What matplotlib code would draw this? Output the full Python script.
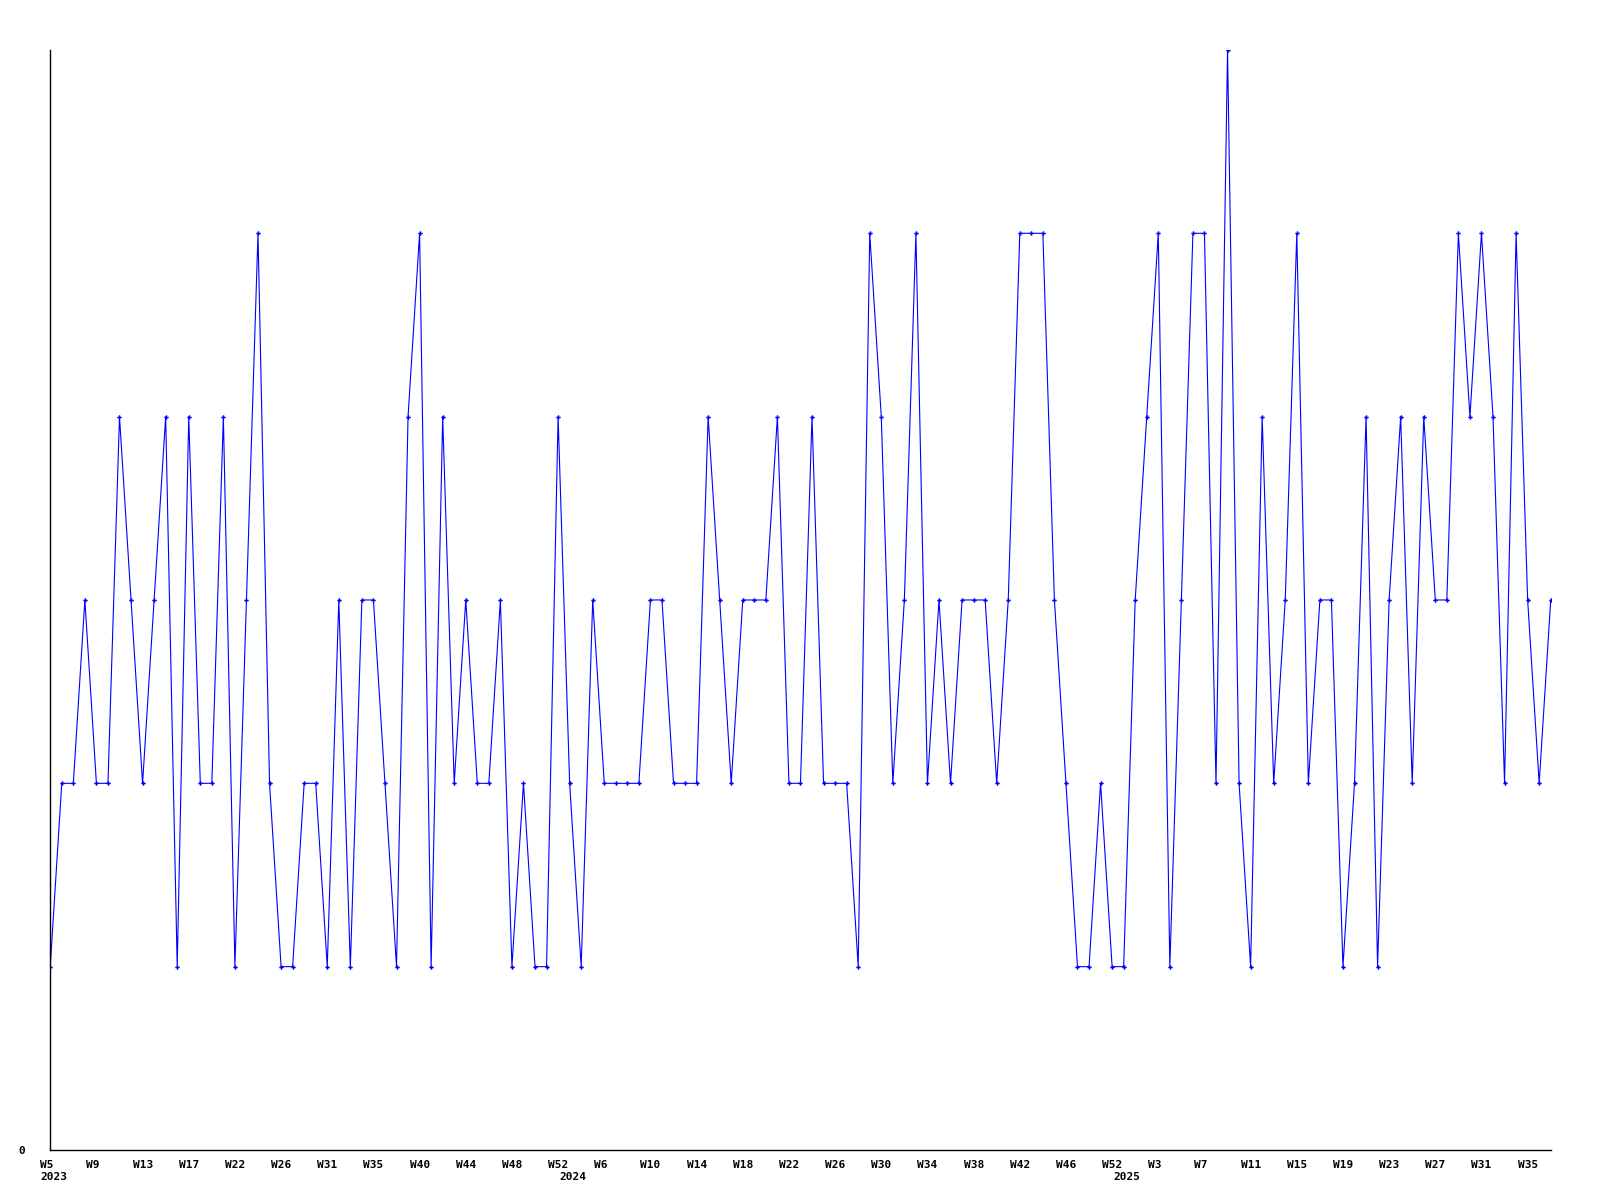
import matplotlib
matplotlib.use("Agg")
import matplotlib.pyplot as plt
from matplotlib.transforms import ScaledTranslation

# weekly values, 2023 W5 .. 2025 W36 (one point per reported week)
values = [
    1, 2, 2, 3, 2, 2, 4, 3, 2, 3, 4, 1, 4, 2, 2, 4, 1, 3, 5, 2,
    1, 1, 2, 2, 1, 3, 1, 3, 3, 2, 1, 4, 5, 1, 4, 2, 3, 2, 2, 3,
    1, 2, 1, 1, 4, 2, 1, 3, 2, 2, 2, 2, 3, 3, 2, 2, 2, 4, 3, 2,
    3, 3, 3, 4, 2, 2, 4, 2, 2, 2, 1, 5, 4, 2, 3, 5, 2, 3, 2, 3,
    3, 3, 2, 3, 5, 5, 5, 3, 2, 1, 1, 2, 1, 1, 3, 4, 5, 1, 3, 5,
    5, 2, 6, 2, 1, 4, 2, 3, 5, 2, 3, 3, 1, 2, 4, 1, 3, 4, 2, 4,
    3, 3, 5, 4, 5, 4, 2, 5, 3, 2, 3,
]

# labels shown every 4th point
week_labels = [
    "W5", "W9", "W13", "W17", "W22", "W26", "W31", "W35", "W40", "W44",
    "W48", "W52", "W6", "W10", "W14", "W18", "W22", "W26", "W30", "W34",
    "W38", "W42", "W46", "W52", "W3", "W7", "W11", "W15", "W19", "W23",
    "W27", "W31", "W35",
]
year_labels = ["2023", "2024", "2025"]
year_index = [0, 45, 93]  # first point of each year


def main():
    fig = plt.figure(figsize=(16, 12), dpi=100)
    ax = fig.add_axes([0.0314, 0.04167, 0.9378, 0.9167])

    x = list(range(len(values)))
    ax.plot(x, values, color="#0000ff", linewidth=0.8,
            marker="P", markersize=3.2, markeredgewidth=0)

    ax.set_xlim(0, len(values) - 1)
    ax.set_ylim(0, 6)

    # only the left and bottom axis lines
    for side in ("top", "right"):
        ax.spines[side].set_visible(False)
    for side in ("left", "bottom"):
        ax.spines[side].set_linewidth(1.0)
        ax.spines[side].set_color("black")

    font = dict(family="DejaVu Sans Mono", weight="bold", size=8)

    ax.set_yticks([0])
    ax.set_yticklabels(["0"], **font)
    ax.tick_params(axis="y", length=0, pad=18)

    # keep the 2023 label even though it sits on a major tick
    ax.xaxis.remove_overlapping_locs = False
    ax.set_xticks(x[::4])
    ax.set_xticklabels(week_labels, **font)
    ax.set_xticks(year_index, minor=True)
    ax.set_xticklabels(year_labels, minor=True, **font)
    ax.tick_params(axis="x", which="major", length=0, pad=7)
    ax.tick_params(axis="x", which="minor", length=0, pad=16)

    # labels start a little left of their point
    shift = ScaledTranslation(-10 / 100, 0, fig.dpi_scale_trans)
    for lab in ax.get_xticklabels() + ax.get_xticklabels(minor=True):
        lab.set_horizontalalignment("left")
        lab.set_transform(lab.get_transform() + shift)

    fig.savefig("out.png", dpi=100, facecolor="white")


if __name__ == "__main__":
    main()
